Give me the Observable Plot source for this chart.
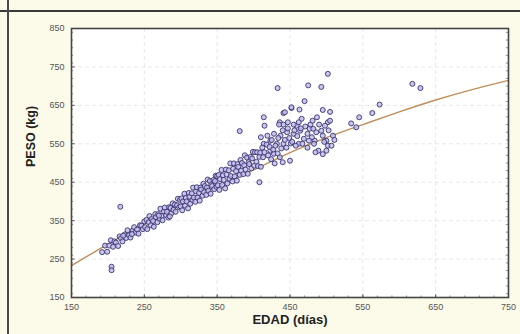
<!DOCTYPE html>
<html>
<head>
<meta charset="utf-8">
<script src="https://cdn.jsdelivr.net/npm/d3@7"></script>
<script src="https://cdn.jsdelivr.net/npm/@observablehq/plot@0.6"></script>
<style>
  html, body { margin: 0; padding: 0; background: #fcfae8; }
  #wrap { position: relative; width: 520px; height: 334px; overflow: hidden; }
  .rule-h { position: absolute; left: 0; top: 10px; width: 520px; height: 2px; background: #3a3a3a; }
  .rule-v { position: absolute; left: 7px; top: 0; width: 2px; height: 334px; background: #4a4a4a; }
  #wrap svg { position: absolute; left: 0; top: 0; }
</style>
</head>
<body>
<div id="wrap"><div class="rule-h"></div><div class="rule-v"></div></div>
<script>
// Age (days) and live weight (kg) of each animal
const edad = [
  192,196,199,202,204,207,209,211,214,216,218,220,223,225,227,229,231,234,236,238,240,242,244,246,248,250,233,221,
  251,253,254,256,257,259,260,262,263,265,266,268,269,271,272,274,275,277,278,280,281,283,284,286,287,289,290,292,293,295,296,298,299,285,270,
  300,301,302,303,305,306,307,308,310,311,312,313,315,316,317,318,320,321,322,323,325,326,327,328,330,331,332,333,335,336,337,338,340,341,342,343,345,346,347,348,349,350,
  351,352,353,354,356,357,358,359,361,362,363,364,366,367,368,369,371,372,373,374,376,377,378,379,381,382,383,384,386,387,388,389,391,392,393,394,396,397,398,399,401,402,404,405,406,408,409,410,
  502,433,475,493,470,452,463,441,414,495,505,487,502,498,415,436,447,466,459,477,381,534,541,545,563,573,509,500,502,489,500,484,495,424,436,450,618,629,485,495,429,440,413,443,452,408,493,482,505,
  441,435,455,462,446,455,464,474,480,469,437,428,419,410,423,414,432,441,451,462,476,483,423,428,
  412,415,418,420,422,425,427,430,433,434,438,440,443,445,447,449,453,456,458,460,465,467,471,474,478,481,486,490,497,503,507,511,
  217,205,205
];
const peso = [
  268,285,269,285,299,282,296,293,284,309,304,296,314,305,325,312,306,324,333,319,327,316,338,337,328,348,315,311,
  333,352,328,346,362,338,354,349,334,367,359,346,367,355,381,362,351,374,384,364,373,358,385,383,369,395,378,392,373,390,407,385,404,361,363,
  387,408,377,400,420,389,409,400,382,422,412,394,421,404,436,410,399,426,437,410,422,402,436,431,415,446,424,440,417,436,457,428,453,420,444,440,456,432,453,467,438,466,
  442,469,430,458,482,443,468,456,434,483,470,447,481,459,499,466,452,485,499,465,479,454,497,490,469,508,480,500,471,494,520,483,514,472,502,497,516,486,512,529,493,528,503,528,492,516,527,490,
  732,695,702,698,661,643,639,630,619,638,633,619,606,597,597,606,606,615,597,589,583,603,593,619,630,652,571,558,545,532,532,558,571,510,515,506,706,695,528,523,499,502,515,632,645,450,584,589,610,
  600,600,600,606,580,576,584,576,567,563,571,576,571,567,558,550,550,550,551,550,558,550,532,524,
  540,528,548,520,542,560,535,545,525,565,538,585,560,540,590,565,555,585,545,570,590,550,595,540,600,610,580,600,555,585,545,560,
  386,230,221
];

// Fitted growth curve
const curvaEdad = [150, 200, 250, 300, 350, 400, 450, 500, 550, 600, 650, 700, 750];
const curvaPeso = [233, 289, 342, 392, 439, 482, 527, 566, 600, 633, 664, 691, 715];

const xTicks = [150, 250, 350, 450, 550, 650, 750];
const yTicks = [150, 250, 350, 450, 550, 650, 750, 850];
const yMinor = d3.range(160, 850, 20);
const xMinor = d3.range(170, 750, 20);

const animales = edad.map((e, i) => ({edad: e, peso: peso[i]}));
const curva = curvaEdad.map((e, i) => ({edad: e, peso: curvaPeso[i]}));

const chart = Plot.plot({
  width: 520,
  height: 334,
  marginLeft: 71,
  marginRight: 12,
  marginTop: 28,
  marginBottom: 37,
  style: {background: "transparent", fontFamily: "Arial, 'Liberation Sans', sans-serif", fontSize: "9px", color: "#555"},
  x: {domain: [150, 750], ticks: xTicks, tickSize: 0, tickPadding: 6, label: null},
  y: {domain: [150, 850], ticks: yTicks, tickSize: 0, tickPadding: 7, label: null},
  marks: [
    Plot.frame({fill: "white", stroke: null}),
    Plot.gridX(xTicks, {stroke: "#c4c4c4", strokeOpacity: 0.4, strokeDasharray: "4,3"}),
    Plot.gridY(yTicks, {stroke: "#c4c4c4", strokeOpacity: 0.4, strokeDasharray: "4,3"}),
    Plot.ruleY(yMinor, {x1: 150, x2: 153, stroke: "#777", strokeWidth: 0.8}),
    Plot.ruleY(yTicks, {x1: 150, x2: 155, stroke: "#555", strokeWidth: 1}),
    Plot.ruleY(yMinor, {x1: 747, x2: 750, stroke: "#777", strokeWidth: 0.8}),
    Plot.ruleX(xMinor, {y1: 150, y2: 154, stroke: "#777", strokeWidth: 0.8}),
    Plot.ruleX(xTicks, {y1: 150, y2: 157, stroke: "#555", strokeWidth: 1}),
    Plot.line(curva, {x: "edad", y: "peso", curve: "natural", stroke: "#bf8f5c", strokeWidth: 1.4}),
    Plot.dot(animales, {x: "edad", y: "peso", r: 2.5, fill: "#c2bbee", fillOpacity: 0.85, stroke: "#37346c", strokeWidth: 0.9}),
    Plot.frame({stroke: "#454545", strokeWidth: 1.6}),
    Plot.text(["EDAD (días)"], {frameAnchor: "bottom", dy: 26, fontWeight: "bold", fontSize: 13, fill: "#222"}),
    Plot.text(["PESO (kg)"], {frameAnchor: "left", dx: -41, dy: 4, rotate: -90, fontWeight: "bold", fontSize: 12.5, fill: "#222"})
  ]
});
document.getElementById("wrap").appendChild(chart);
</script>
</body>
</html>
